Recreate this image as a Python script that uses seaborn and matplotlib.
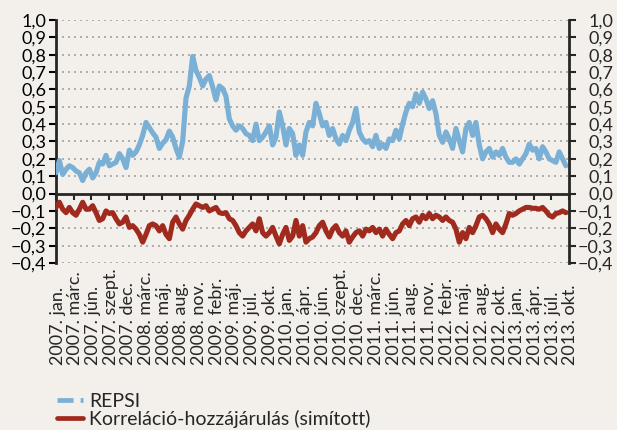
import numpy as np
import pandas as pd
import matplotlib
matplotlib.use('Agg')
import matplotlib.pyplot as plt
from matplotlib.lines import Line2D
from matplotlib.ticker import MultipleLocator, FuncFormatter
import seaborn as sns

# Category labels of the x axis (evenly spaced, as in the original Excel chart)
tick_labels = [
    '2007. jan.', '2007. márc.', '2007. jún.', '2007. szept.', '2007. dec.',
    '2008. márc.', '2008. máj.', '2008. aug.', '2008. nov.',
    '2009. febr.', '2009. máj.', '2009. júl.', '2009. okt.',
    '2010. jan.', '2010. ápr.', '2010. jún.', '2010. szept.', '2010. dec.',
    '2011. márc.', '2011. jún.', '2011. aug.', '2011. nov.',
    '2012. febr.', '2012. máj.', '2012. aug.', '2012. okt.',
    '2013. jan.', '2013. ápr.', '2013. júl.', '2013. okt.',
]

# REPSI
repsi = [
    0.12, 0.19, 0.11, 0.14, 0.16, 0.15, 0.13, 0.12, 0.075, 0.12, 0.14, 0.09, 0.12,
    0.18, 0.17, 0.22, 0.16, 0.17, 0.18, 0.23, 0.20, 0.15, 0.25, 0.22, 0.24, 0.28,
    0.335, 0.41, 0.38, 0.35, 0.325, 0.26, 0.29, 0.31, 0.36, 0.325, 0.26, 0.21, 0.30,
    0.55, 0.62, 0.79, 0.71, 0.67, 0.62, 0.66, 0.68, 0.615, 0.54, 0.62, 0.605, 0.56,
    0.43, 0.39, 0.365, 0.39, 0.375, 0.345, 0.335, 0.305, 0.40, 0.305, 0.325, 0.355,
    0.39, 0.28, 0.325, 0.47, 0.39, 0.28, 0.375, 0.345, 0.22, 0.28, 0.22, 0.355, 0.41, 0.39,
    0.52, 0.46, 0.39, 0.41, 0.335, 0.375, 0.315, 0.285, 0.335, 0.305, 0.365, 0.41, 0.49,
    0.355, 0.315, 0.295, 0.305, 0.27, 0.335, 0.26, 0.285, 0.26, 0.315, 0.305, 0.365,
    0.315, 0.40, 0.47, 0.52, 0.50, 0.575, 0.52, 0.585, 0.545, 0.49, 0.535, 0.46, 0.335, 0.295,
    0.355, 0.315, 0.26, 0.375, 0.305, 0.24, 0.375, 0.41, 0.335, 0.41, 0.28, 0.20, 0.24,
    0.26, 0.21, 0.24, 0.22, 0.26, 0.21, 0.18, 0.18, 0.20, 0.17, 0.20, 0.23, 0.285,
    0.25, 0.26, 0.20, 0.27, 0.24, 0.20, 0.19, 0.18, 0.24, 0.20, 0.16,
]

# Korreláció-hozzájárulás (simított)
korr = [
    -0.08, -0.05, -0.09, -0.11, -0.08, -0.11, -0.125, -0.09, -0.05, -0.09, -0.09, -0.07,
    -0.11, -0.155, -0.145, -0.10, -0.115, -0.11, -0.145, -0.175, -0.165, -0.135, -0.195,
    -0.185, -0.205, -0.235, -0.28, -0.235, -0.185, -0.175, -0.185, -0.215, -0.185, -0.235,
    -0.26, -0.165, -0.135, -0.175, -0.205,
    -0.155, -0.125, -0.09, -0.06, -0.07, -0.08, -0.07, -0.10, -0.09, -0.08, -0.11, -0.115,
    -0.11, -0.145, -0.155, -0.185, -0.225, -0.245, -0.215, -0.195, -0.175, -0.215, -0.145,
    -0.225, -0.245, -0.225, -0.195, -0.245, -0.29, -0.235, -0.195, -0.27, -0.245, -0.155,
    -0.245, -0.185, -0.28, -0.26, -0.25,
    -0.225, -0.185, -0.165, -0.215, -0.25, -0.205, -0.185, -0.225, -0.245, -0.215, -0.28,
    -0.25, -0.225, -0.215, -0.245, -0.205, -0.215, -0.195, -0.225, -0.205, -0.245, -0.205,
    -0.235, -0.26, -0.225, -0.215, -0.175, -0.155, -0.185, -0.145, -0.135, -0.165, -0.125,
    -0.145, -0.115, -0.145, -0.125, -0.135, -0.155,
    -0.135, -0.155, -0.165, -0.205, -0.28, -0.225, -0.26, -0.195, -0.225, -0.185, -0.135,
    -0.125, -0.145, -0.175, -0.225, -0.175, -0.205, -0.225, -0.175, -0.115, -0.125, -0.115,
    -0.10, -0.09, -0.08, -0.08, -0.085, -0.085, -0.09, -0.08, -0.10, -0.125, -0.135, -0.115,
    -0.11, -0.10, -0.11,
]

# samples are evenly spaced; about 5.3 samples per category label
step = 0.1884
df = pd.DataFrame({'pos': np.arange(len(repsi)) * step, 'REPSI': repsi, 'korr': korr})

bg = '#f3f0ec'
blue = '#7aafd6'
red = '#a02a1e'

sns.set_style('ticks')
plt.rcParams['font.family'] = ['Lato', 'DejaVu Sans']
plt.rcParams['font.size'] = 13

fig, ax = plt.subplots(figsize=(6.17, 4.30), dpi=100)
fig.patch.set_facecolor(bg)
ax.set_facecolor(bg)
fig.subplots_adjust(left=0.0908, right=0.9222, top=0.9535, bottom=0.3884)

# dotted grid
for g in np.arange(-4, 11):
    if g != 0:
        ax.axhline(g / 10, color='#a3a3a3', lw=1.2, ls=(0, (1.2, 2.4)), zorder=0)

sns.lineplot(data=df, x='pos', y='REPSI', ax=ax, color=blue, lw=3.7, zorder=3)
sns.lineplot(data=df, x='pos', y='korr', ax=ax, color=red, lw=3.7, zorder=3)

ax.set_xlim(0, len(tick_labels) - 1)
ax.set_ylim(-0.4, 1.0)
ax.set_xlabel('')
ax.set_ylabel('')
ax.set_xticks([])

fmt = FuncFormatter(lambda v, p: ('%.1f' % (0 if abs(v) < 1e-9 else v)).replace('.', ',').replace('-', '\u2212'))
ax.yaxis.set_major_locator(MultipleLocator(0.1))
ax.yaxis.set_major_formatter(fmt)
ax.tick_params(axis='y', direction='out', length=5, width=1.5, pad=2, labelsize=13, colors='black')
for s in ['top', 'bottom', 'right']:
    ax.spines[s].set_visible(False)
ax.spines['left'].set_linewidth(2)

# right axis duplicates the left one
ax2 = ax.twinx()
ax2.set_ylim(-0.4, 1.0)
ax2.yaxis.set_major_locator(MultipleLocator(0.1))
ax2.yaxis.set_major_formatter(fmt)
ax2.tick_params(axis='y', direction='out', length=5, width=1.5, pad=27, labelsize=13)
for lab in ax2.get_yticklabels():
    lab.set_horizontalalignment('right')
for s in ['top', 'bottom', 'left']:
    ax2.spines[s].set_visible(False)
ax2.spines['right'].set_linewidth(2)

# category axis sits on the zero line
sec = ax.secondary_xaxis(0.4 / 1.4)
sec.set_xticks(range(len(tick_labels)))
sec.tick_params(axis='x', direction='out', length=4, width=1.5, labelbottom=False)
sec.spines['bottom'].set_linewidth(2)

# category labels at the bottom, starting from a common baseline
trans = ax.get_xaxis_transform()
for i, lab in enumerate(tick_labels):
    ax.text(i, -0.42, lab, transform=trans, rotation=90, rotation_mode='anchor',
            ha='left', va='center_baseline', fontsize=13, clip_on=False)

leg_kw = dict(loc='center left', frameon=False, borderpad=0, borderaxespad=0,
              handlelength=1.34, handletextpad=0.3, fontsize=14)
leg1 = fig.legend([Line2D([], [], color=blue, lw=3.4, ls=(0, (3.4, 1.5, 1.1, 1.5)))],
                  ['REPSI'], bbox_to_anchor=(0.0924, 0.0674), **leg_kw)
fig.legend([Line2D([], [], color=red, lw=3.4)],
           ['Korreláció-hozzájárulás (simított)'], bbox_to_anchor=(0.0924, 0.0256), **leg_kw)

fig.savefig('out.png', dpi=100, facecolor=bg)
